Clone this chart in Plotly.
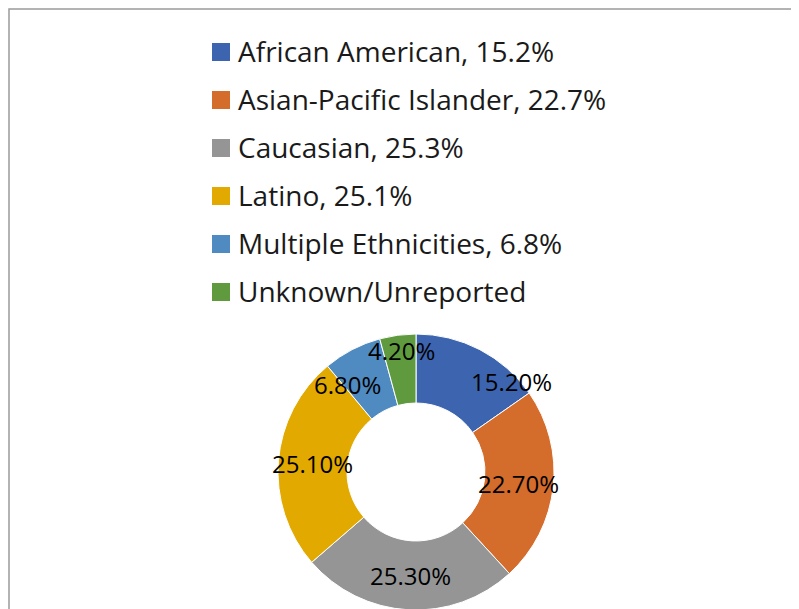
import math
import plotly.graph_objects as go

categories = ["African American", "Asian-Pacific Islander", "Caucasian",
              "Latino", "Multiple Ethnicities", "Unknown/Unreported"]
values = [15.2, 22.7, 25.3, 25.1, 6.8, 4.2]
legend_labels = ["African American, 15.2%", "Asian-Pacific Islander, 22.7%",
                 "Caucasian, 25.3%", "Latino, 25.1%",
                 "Multiple Ethnicities, 6.8%", "Unknown/Unreported"]
colors = ["#3D64AE", "#D46C2B", "#959595", "#E2A900", "#4F8AC0", "#5F9B3E"]

# layout/styling (pixels in figure space; page adds an 8px body margin)
W, H = 799, 609
CX, CY = 408, 464
R_OUT = 138
HOLE = 0.5
label_nudge = [(48, 1), (0, 0), (0, 0), (0, 0), (-21, 4), (-1, -19)]

fig = go.Figure(go.Pie(
    labels=categories, values=values, hole=HOLE, sort=False,
    direction="clockwise", rotation=0,
    marker=dict(colors=colors, line=dict(color="white", width=1)),
    textinfo="none",
    domain=dict(x=[(CX - R_OUT) / W, (CX + R_OUT) / W],
                y=[(H - CY - R_OUT) / H, (H - CY + R_OUT) / H]),
    showlegend=False, hoverinfo="label+value",
))

# data labels placed at mid-ring of each slice (derived from the values)
total = sum(values)
r_mid = R_OUT * (1 + HOLE) / 2
cum = 0.0
for v, (dx, dy) in zip(values, label_nudge):
    mid = (cum + v / 2) / total * 2 * math.pi
    cum += v
    px = CX + r_mid * math.sin(mid) + dx
    py = CY - r_mid * math.cos(mid) + dy
    fig.add_annotation(xref="paper", yref="paper", x=px / W, y=1 - py / H,
                       xanchor="center", yanchor="middle", showarrow=False,
                       text=f"{v:.2f}%",
                       font=dict(family="Open Sans", size=24, color="black"))

# custom legend (large squares, wide spacing)
for i, (lab, col) in enumerate(zip(legend_labels, colors)):
    yc = 44 + 48 * i
    fig.add_shape(type="rect", xref="paper", yref="paper",
                  x0=204 / W, x1=222 / W, y0=1 - (yc - 9) / H, y1=1 - (yc + 9) / H,
                  fillcolor=col, line=dict(width=0))
    fig.add_annotation(xref="paper", yref="paper", x=228 / W, y=1 - (yc - 1) / H,
                       xanchor="left", yanchor="middle", showarrow=False,
                       text=lab, font=dict(family="Open Sans", size=28, color="#1a1a1a"))

# chart border
fig.add_shape(type="rect", xref="paper", yref="paper",
              x0=1 / W, y0=1 - 1 / H, x1=1.05, y1=-0.05,
              line=dict(color="#9a9a9a", width=1.5), fillcolor="rgba(0,0,0,0)")

fig.update_layout(width=W, height=H, margin=dict(l=0, r=0, t=0, b=0),
                  paper_bgcolor="white", plot_bgcolor="white")

fig.write_html("out.html")
